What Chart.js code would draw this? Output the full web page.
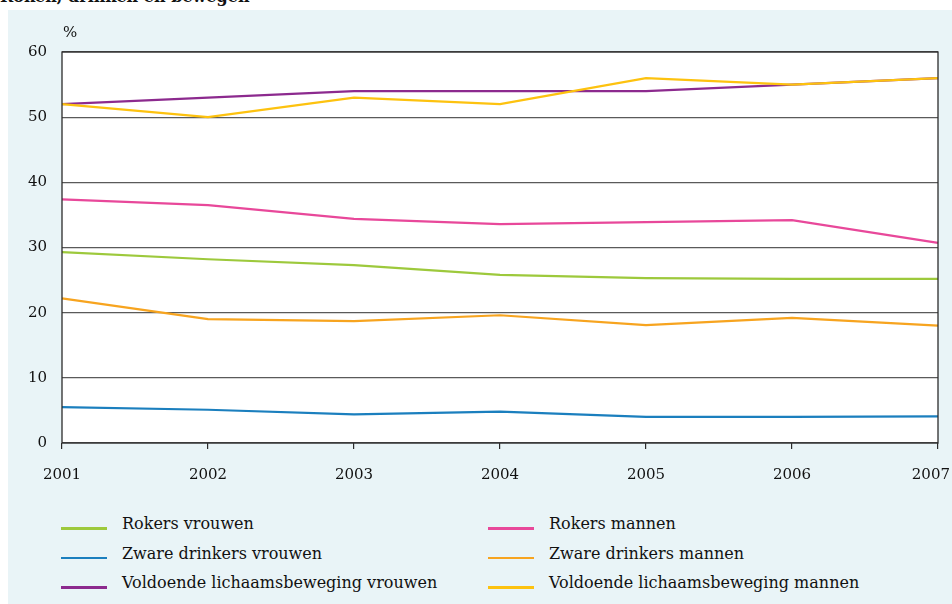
<!DOCTYPE html>
<html>
<head>
<meta charset="utf-8">
<script src="https://cdn.jsdelivr.net/npm/chart.js@4"></script>
<style>
    body { margin: 0; width: 952px; height: 604px; position: relative; overflow: hidden; background: #fff; font-family: "DejaVu Serif", serif; }
    #title { position: absolute; left: 0; top: -13px; font-weight: bold; font-size: 16px; color: #111; white-space: nowrap; }
    #panel { position: absolute; left: 8px; top: 10px; width: 944px; height: 594px; background: #e9f4f7; }
    #wrap { position: absolute; left: 0; top: 0; width: 952px; height: 490px; }
    .swatch { position: absolute; width: 46px; height: 2.5px; }
    .label { position: absolute; font-size: 16px; line-height: 20px; color: #111; white-space: nowrap; }
</style>
</head>
<body>
<div id="title">Roken, drinken en bewegen</div>
<div id="panel"></div>
<div id="wrap"><canvas id="chart"></canvas></div>
<div id="legend"></div>
<script>
const years = ['2001', '2002', '2003', '2004', '2005', '2006', '2007'];
const yTicks = [0, 10, 20, 30, 40, 50, 60];

const rokersVrouwen = [29.3, 28.2, 27.3, 25.8, 25.3, 25.2, 25.2];
const rokersMannen = [37.4, 36.5, 34.4, 33.6, 33.9, 34.2, 30.7];
const drinkersVrouwen = [5.5, 5.1, 4.4, 4.8, 4.0, 4.0, 4.1];
const drinkersMannen = [22.2, 19.0, 18.7, 19.6, 18.1, 19.2, 18.0];
const bewegingVrouwen = [52, 53, 54, 54, 54, 55, 56];
const bewegingMannen = [52, 50, 53, 52, 56, 55, 56];

const series = [
    { label: 'Rokers vrouwen', data: rokersVrouwen, color: '#9dc93c' },
    { label: 'Rokers mannen', data: rokersMannen, color: '#e8489a' },
    { label: 'Zware drinkers vrouwen', data: drinkersVrouwen, color: '#1b7fbe' },
    { label: 'Zware drinkers mannen', data: drinkersMannen, color: '#f7a41f' },
    { label: 'Voldoende lichaamsbeweging vrouwen', data: bewegingVrouwen, color: '#8c2a8e' },
    { label: 'Voldoende lichaamsbeweging mannen', data: bewegingMannen, color: '#fdc20f' }
];

// white plot area, border, "%" label and x labels kept inside the canvas
const plotFrame = {
    id: 'plotFrame',
    beforeDraw(chart) {
        const { ctx, chartArea: a } = chart;
        ctx.save();
        ctx.fillStyle = '#ffffff';
        ctx.fillRect(a.left, a.top, a.right - a.left, a.bottom - a.top);
        ctx.restore();
    },
    afterDraw(chart) {
        const { ctx, chartArea: a } = chart;
        const xScale = chart.scales.x;
        ctx.save();
        ctx.strokeStyle = '#2b2b2b';
        ctx.lineWidth = 1.3;
        ctx.strokeRect(a.left, a.top, a.right - a.left, a.bottom - a.top);
        ctx.fillStyle = '#111';
        ctx.font = '15px "DejaVu Serif"';
        ctx.textBaseline = 'alphabetic';
        ctx.textAlign = 'left';
        ctx.fillText('%', a.left + 1, a.top - 15);
        years.forEach((yr, i) => {
            const w = ctx.measureText(yr).width;
            let x = xScale.getPixelForTick(i) - w / 2;
            x = Math.min(x, chart.width - 2 - w);
            ctx.fillText(yr, x, a.bottom + 36);
        });
        ctx.restore();
    }
};

new Chart(document.getElementById('chart'), {
    type: 'line',
    data: {
        labels: years,
        datasets: series.map((s, i) => ({
            label: s.label,
            data: s.data,
            borderColor: s.color,
            backgroundColor: s.color,
            borderWidth: 2.2,
            pointRadius: 0,
            tension: 0,
            fill: false,
            order: series.length - i
        }))
    },
    options: {
        responsive: true,
        maintainAspectRatio: false,
        animation: false,
        layout: { padding: { top: 52, left: 0, right: 14, bottom: 7 } },
        plugins: {
            legend: { display: false },
            tooltip: { enabled: false }
        },
        scales: {
            x: {
                type: 'category',
                offset: false,
                border: { display: false },
                grid: { drawOnChartArea: false, drawTicks: true, tickLength: 6, color: '#2b2b2b', lineWidth: 1.2 },
                ticks: { display: false, autoSkip: false },
                afterFit(s) { s.height = 40; s.paddingLeft = 0; s.paddingRight = 0; }
            },
            y: {
                min: 0,
                max: 60,
                afterBuildTicks(s) { s.ticks = yTicks.map(v => ({ value: v })); },
                border: { display: false },
                grid: { drawTicks: false, color: '#5a5a5a', lineWidth: 1.2 },
                ticks: { color: '#111', font: { family: 'DejaVu Serif', size: 15 }, padding: 15 },
                afterFit(s) { s.width = 62; s.paddingTop = 0; s.paddingBottom = 0; }
            }
        }
    },
    plugins: [plotFrame]
});

// two-column legend under the chart
const legend = document.getElementById('legend');
const colX = [61, 488];
const rowY = [527, 556.5, 586];
series.forEach((s, i) => {
    const x = colX[i % 2];
    const y = rowY[Math.floor(i / 2)];
    const sw = document.createElement('div');
    sw.className = 'swatch';
    sw.style.left = x + 'px';
    sw.style.top = y + 'px';
    sw.style.background = s.color;
    legend.appendChild(sw);
    const lb = document.createElement('div');
    lb.className = 'label';
    lb.style.left = (x + 61) + 'px';
    lb.style.top = (y - 13) + 'px';
    lb.textContent = s.label;
    legend.appendChild(lb);
});
</script>
</body>
</html>
